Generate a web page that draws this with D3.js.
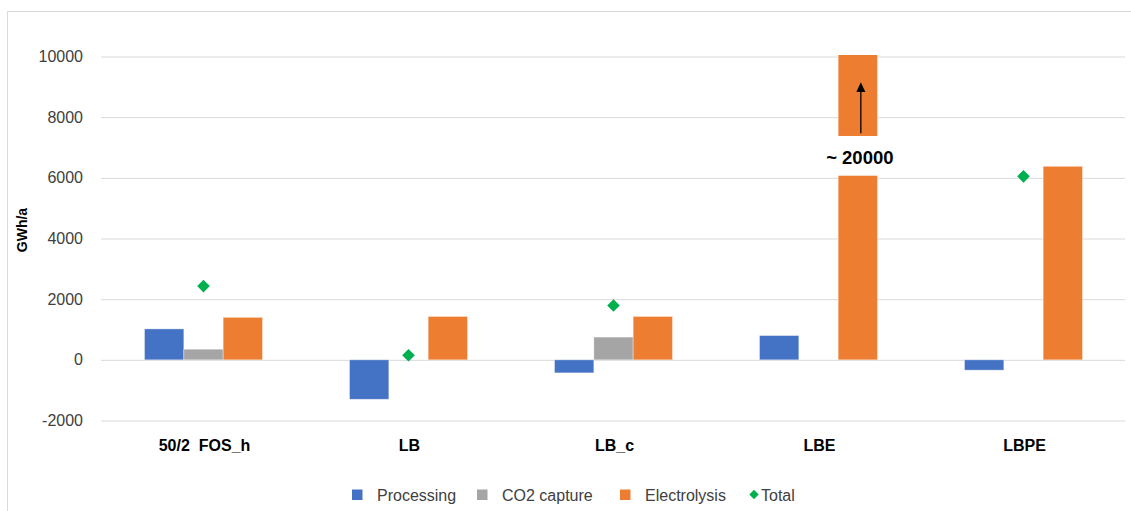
<!DOCTYPE html>
<html>
<head>
<meta charset="utf-8">
<script src="https://cdn.jsdelivr.net/npm/d3@7"></script>
<style>
  body { margin: 0; background: #fff; }
  svg { display: block; font-family: "Liberation Sans", Arial, sans-serif; }
</style>
</head>
<body>
<div id="main"></div>
<script>
const ctx = { w: 1131, h: 511 };

// data (GWh/a)
const categories = ["50/2  FOS_h", "LB", "LB_c", "LBE", "LBPE"];
const seriesNames = ["Processing", "CO2 capture", "Electrolysis"];
const processing = [1020, -1300, -430, 800, -340];
const co2capture = [350, 0, 750, 0, 0];
const electrolysis = [1400, 1430, 1430, 20000, 6380];
const total = [2430, 150, 1790, 20800, 6050];
const yTicks = [-2000, 0, 2000, 4000, 6000, 8000, 10000];
const colors = ["#4472C4", "#A5A5A5", "#ED7D31"];
const totalColor = "#00B050";
const breakLabel = "~ 20000";

function createViz() {
    const svgEl = d3.select("#main").append("svg")
        .attr("width", ctx.w)
        .attr("height", ctx.h);

    // outer frame (left + top edges visible)
    svgEl.append("path")
        .attr("d", "M7.5,511 V11.5 H1131")
        .attr("fill", "none")
        .attr("stroke", "#D9D9D9");

    const y = d3.scaleLinear().domain([-2000, 10000]).range([420.5, 56.5]);
    const x = d3.scaleBand().domain(categories).range([101, 1126])
        .paddingInner(0.4244).paddingOuter(0.2122);
    const xs = d3.scaleBand().domain(seriesNames).range([0, x.bandwidth()]);

    // gridlines + tick labels
    const yAxis = d3.axisLeft(y).tickValues(yTicks).tickSize(-(1125 - 101)).tickFormat(d => String(d));
    const ax = svgEl.append("g").attr("transform", "translate(101,0)").call(yAxis);
    ax.select(".domain").remove();
    ax.selectAll(".tick line").attr("stroke", "#D9D9D9");
    ax.selectAll(".tick text")
        .attr("x", -18)
        .style("font-family", "'Liberation Sans', Arial, sans-serif")
        .style("font-size", "16px")
        .attr("fill", "#404040");

    // y title
    svgEl.append("text")
        .attr("transform", "translate(27,230) rotate(-90)")
        .attr("text-anchor", "middle")
        .style("font-size", "14px")
        .style("font-weight", "bold")
        .attr("fill", "#000")
        .text("GWh/a");

    svgEl.append("clipPath").attr("id", "plotClip")
        .append("rect").attr("x", 0).attr("y", 55).attr("width", ctx.w).attr("height", 400);

    const rows = categories.map((c, i) => ({
        cat: c,
        vals: [processing[i], co2capture[i], electrolysis[i]]
    }));

    const plot = svgEl.append("g").attr("clip-path", "url(#plotClip)");
    const groups = plot.selectAll(".grp").data(rows).enter().append("g")
        .attr("class", "grp")
        .attr("transform", d => `translate(${x(d.cat)},0)`);
    groups.selectAll("rect")
        .data(d => d.vals.map((v, k) => ({ v, k })).filter(e => e.v !== 0))
        .enter().append("rect")
        .attr("x", e => xs(seriesNames[e.k]))
        .attr("width", xs.bandwidth())
        .attr("y", e => y(Math.max(0, e.v)))
        .attr("height", e => Math.abs(y(e.v) - y(0)))
        .attr("fill", e => colors[e.k])
        .attr("stroke", "rgba(255,255,255,0.45)")
        .attr("stroke-width", 0.8);

    // totals (diamonds)
    const diamond = d3.symbol().type(d3.symbolSquare).size(80);
    plot.selectAll(".tot").data(rows.map((r, i) => ({ cat: r.cat, v: total[i] }))).enter()
        .append("path")
        .attr("class", "tot")
        .attr("d", diamond)
        .attr("fill", totalColor)
        .attr("transform", d => `translate(${x(d.cat) + x.bandwidth() / 2},${y(d.v)}) rotate(45)`);

    // axis break annotation on LBE electrolysis
    const cx = x("LBE") + xs("Electrolysis") + xs.bandwidth() / 2;
    svgEl.append("rect")
        .attr("x", cx - 46).attr("y", y(7380))
        .attr("width", 100).attr("height", y(6070) - y(7380))
        .attr("fill", "#fff");
    svgEl.append("text")
        .attr("x", cx + 2).attr("y", y(6450))
        .attr("text-anchor", "middle")
        .style("font-size", "18.5px")
        .style("font-weight", "bold")
        .attr("fill", "#000")
        .text(breakLabel);
    svgEl.append("line")
        .attr("x1", cx + 3).attr("x2", cx + 3)
        .attr("y1", y(7470)).attr("y2", y(8850))
        .attr("stroke", "#000").attr("stroke-width", 1.3);
    svgEl.append("path")
        .attr("d", d3.line()([[cx + 3, y(9150)], [cx - 1.5, y(8830)], [cx + 7.5, y(8830)]]) + "Z")
        .attr("fill", "#000");

    // category labels
    svgEl.selectAll(".xlab").data(categories).enter().append("text")
        .attr("class", "xlab")
        .attr("x", d => x(d) + x.bandwidth() / 2 + 1)
        .attr("y", 451)
        .attr("text-anchor", "middle")
        .style("font-size", "16px")
        .style("font-weight", "bold")
        .style("white-space", "pre")
        .attr("fill", "#000")
        .text(d => d);

    // legend
    const legX = [352, 477, 620, 754];
    const leg = svgEl.append("g");
    seriesNames.forEach((s, i) => {
        leg.append("rect").attr("x", legX[i]).attr("y", 489.5).attr("width", 10.5).attr("height", 10.5)
            .attr("fill", colors[i]);
        leg.append("text").attr("x", legX[i] + 25).attr("y", 500.5)
            .style("font-size", "16px").attr("fill", "#404040").text(s);
    });
    leg.append("path").attr("d", d3.symbol().type(d3.symbolSquare).size(44))
        .attr("fill", totalColor)
        .attr("transform", `translate(${legX[3]},494.5) rotate(45)`);
    leg.append("text").attr("x", legX[3] + 7).attr("y", 500.5)
        .style("font-size", "16px").attr("fill", "#404040").text("Total");
}

createViz();
</script>
</body>
</html>
